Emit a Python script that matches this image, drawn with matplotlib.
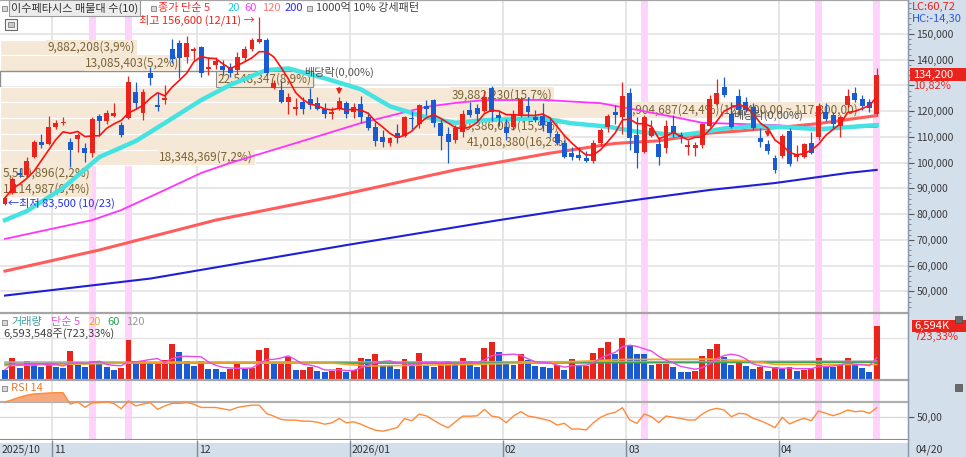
import numpy as np
import pandas as pd
import matplotlib
matplotlib.use("Agg")
import matplotlib.pyplot as plt
from matplotlib import patches, transforms
from matplotlib.lines import Line2D

plt.rcParams['font.family'] = ['Noto Sans CJK KR', 'DejaVu Sans']
plt.rcParams['axes.unicode_minus'] = False

# ---------------- data ----------------
opens = [
    84000, 88100, 96000, 95200, 102300, 107900, 107100, 113800, 115400, 107900,
    109200, 105600, 103900, 118100, 116200, 118100, 114600, 117300, 127300, 119400,
    134900, 122400, 124300, 144000, 146400, 140900, 143500, 144800, 136300, 137900,
    137600, 137000, 136000, 140500, 144000, 146900, 147600, 129100, 128200, 123700,
    120700, 123700, 124600, 123100, 121000, 118900, 120700, 123300, 119800, 122800,
    117600, 113700, 110100, 107800, 111400, 110400, 117400, 115000, 122100, 124300,
    115300, 111100, 108800, 111900, 120600, 121400, 120100, 129000, 118700, 114000,
    114000, 118500, 122000, 117600, 118100, 115900, 111100, 107500, 103900, 103000,
    101700, 100800, 107500, 113700, 119800, 117900, 127200, 110700, 104300, 110300,
    107300, 105800, 114400, 110700, 106200, 105800, 106900, 114400, 122800, 129500,
    118900, 126000, 123700, 121800, 109500, 107300, 101800, 102600, 112400, 102300,
    102300, 107800, 109800, 119800, 118500, 114200, 122400, 127200, 124700, 123500,
    118900]
highs = [
    87000, 94500, 97800, 102300, 108800, 111100, 118100, 116600, 117600, 109500,
    111400, 107500, 117600, 118800, 120500, 123300, 115700, 133700, 131200, 128600,
    137300, 126900, 130200, 147900, 147600, 149200, 145000, 145500, 141200, 141200,
    139900, 138600, 143100, 145300, 148400, 156600, 148300, 132100, 131900, 126900,
    125300, 125600, 128900, 125600, 123000, 121800, 125400, 124100, 123000, 125900,
    119600, 115900, 112700, 110000, 115000, 118000, 120000, 122900, 124300, 124800,
    117000, 114000, 114500, 120500, 123700, 122800, 127700, 129700, 120500, 117000,
    120500, 125600, 125600, 120600, 123100, 117600, 112500, 108800, 106000, 106200,
    104600, 108800, 113400, 119000, 122400, 131500, 128900, 117600, 118500, 116600,
    110000, 116600, 118500, 112000, 108800, 108000, 115500, 126300, 132400, 133200,
    123700, 128500, 125500, 123000, 113400, 108800, 103000, 111100, 113400, 106900,
    107500, 112000, 123000, 123100, 119800, 118500, 128500, 129300, 126300, 124800,
    136900]
lows = [
    83500, 87800, 94400, 94600, 101700, 105800, 107000, 113100, 114500, 98500,
    104300, 100400, 102300, 110400, 115000, 117600, 110000, 117000, 120900, 116600,
    130200, 120200, 122800, 138600, 132800, 138600, 139900, 133400, 134100, 136500,
    134100, 133100, 134300, 139500, 143500, 146600, 134000, 128700, 123100, 118900,
    118400, 119000, 120700, 120500, 117400, 116800, 120500, 117400, 117200, 115300,
    112700, 106500, 106100, 106500, 107600, 109800, 113000, 113600, 118600, 114000,
    104900, 99800, 107500, 109900, 117600, 116000, 119500, 116000, 114200, 108800,
    112700, 117600, 117600, 115800, 112300, 109900, 107000, 101700, 100900, 100900,
    100200, 99800, 106500, 112000, 114900, 111100, 104900, 97800, 103600, 110100,
    99100, 103600, 110100, 107500, 103000, 102600, 105800, 113800, 122500, 125400,
    113400, 118600, 119500, 112700, 106200, 103400, 95900, 101700, 98700, 100800,
    101700, 103400, 109000, 116000, 113600, 109900, 121800, 123400, 120500, 119800,
    118500]
closes = [
    86300, 93500, 95200, 100600, 107900, 106900, 113900, 115500, 115800, 104900,
    110600, 103900, 116800, 116200, 119200, 119200, 110700, 131200, 123100, 127300,
    132800, 121500, 125000, 140100, 140500, 146400, 144000, 134900, 137300, 139600,
    136000, 134900, 141200, 144000, 147600, 147900, 134700, 131100, 123700, 125400,
    121500, 120700, 122400, 120700, 118900, 119800, 124100, 118900, 121800, 117600,
    113400, 108500, 107900, 109500, 109500, 117600, 116800, 122400, 120800, 115600,
    110300, 108100, 113400, 118800, 118600, 119100, 125500, 119800, 117200, 111700,
    118900, 124600, 119800, 116600, 114600, 111600, 107800, 102300, 102300, 101700,
    100800, 107800, 112700, 118100, 118500, 125900, 109500, 103900, 117600, 113500,
    102300, 114200, 111400, 109900, 106900, 106900, 115000, 124700, 127200, 126300,
    114000, 120500, 120500, 113400, 108200, 104600, 97200, 110400, 99500, 103400,
    107100, 103900, 122000, 116800, 114900, 117900, 125900, 124300, 122000, 121100,
    134200]
volumes = [
    1230000, 2700000, 1430000, 2250000, 1840000, 1560000, 2130000, 1560000, 1430000, 3520000,
    1840000, 1640000, 2290000, 2130000, 1560000, 1230000, 1430000, 4830000, 1970000, 2250000,
    1970000, 2000000, 2380000, 4420000, 3400000, 2250000, 1760000, 2250000, 1350000, 1330000,
    1020000, 1350000, 2090000, 1350000, 1470000, 3600000, 3930000, 2170000, 2200000, 2780000,
    1230000, 1250000, 1560000, 1150000, 940000, 1150000, 1430000, 1020000, 1270000, 2660000,
    2540000, 3110000, 1680000, 1660000, 1350000, 2500000, 1760000, 3320000, 1680000, 1640000,
    2090000, 2250000, 2090000, 2620000, 2050000, 1560000, 3930000, 4590000, 3400000, 1970000,
    1840000, 3190000, 2460000, 1680000, 1560000, 1470000, 1840000, 1230000, 2580000, 1680000,
    1700000, 3320000, 3930000, 4630000, 3190000, 5160000, 4220000, 3190000, 3150000, 1880000,
    1900000, 1920000, 1560000, 1020000, 1000000, 1050000, 2870000, 3730000, 4420000, 2780000,
    1880000, 2050000, 1680000, 1350000, 1640000, 1150000, 1560000, 1350000, 1640000, 1150000,
    1230000, 1430000, 2660000, 1640000, 1560000, 1840000, 2660000, 1840000, 1430000, 911555,
    6593548]
rsi14 = [
    70.0, 72.9, 76.4, 79.0, 80.8, 81.3, 82.0, 82.4, 82.4, 67.3,
    70.4, 62.9, 69.0, 69.3, 70.2, 68.0, 61.0, 71.3, 64.7, 67.3,
    69.0, 60.2, 64.7, 68.2, 68.2, 69.3, 67.1, 62.7, 62.7, 62.7,
    60.9, 59.1, 62.7, 64.4, 65.8, 65.8, 54.7, 51.1, 46.7, 45.8,
    45.8, 44.4, 44.4, 43.1, 40.4, 42.2, 48.0, 42.2, 43.6, 40.4,
    36.0, 32.4, 31.1, 33.3, 36.0, 48.0, 44.9, 53.8, 51.6, 45.8,
    40.0, 35.6, 43.6, 51.1, 51.1, 51.6, 60.2, 51.3, 49.6, 42.4,
    51.3, 57.1, 51.3, 49.6, 47.3, 45.1, 39.3, 41.6, 34.0, 34.0,
    32.7, 42.4, 49.6, 54.0, 56.2, 62.4, 46.0, 41.6, 54.0, 50.4,
    42.4, 51.3, 49.6, 48.2, 46.0, 46.0, 54.0, 59.3, 61.6, 59.3,
    50.4, 54.9, 54.0, 48.2, 45.1, 40.7, 35.8, 49.6, 40.7, 45.1,
    48.2, 45.1, 58.0, 54.9, 51.8, 54.9, 59.3, 57.1, 58.0, 54.9,
    62.4]

# moving averages read at sample points (index, value)
ma20_idx = [0, 3, 8, 13, 18, 22, 27, 31, 36, 39, 44, 49, 53, 58, 62, 66, 70, 74, 78, 83, 87, 93, 95, 99, 103, 108, 112, 117, 120]
ma20_val = [77700, 81200, 90200, 102200, 108400, 115400, 124300, 130200, 136000, 136600, 132800, 128500, 121900, 117600,
            115500, 116500, 117000, 117200, 115300, 114000, 112000, 110700, 111400, 113300, 114200, 113700, 113000, 114000, 114600]
ma60_idx = [0, 12, 16, 22, 27, 31, 40, 49, 58, 62, 66, 74, 82, 87, 92, 96, 106, 112, 120]
ma60_val = [70400, 77700, 81600, 89400, 96000, 99900, 107600, 115400, 121700, 123200, 124300, 124400, 123100, 120500,
            117800, 115500, 114600, 113500, 113900]
ma120_idx = [0, 13, 29, 45, 62, 75, 84, 90, 97, 101, 107, 112, 120]
ma120_val = [57900, 66100, 77700, 86700, 97200, 103700, 107500, 108500, 111500, 112300, 113800, 115200, 118300]
ma200_idx = [0, 20, 47, 68, 77, 88, 97, 106, 116, 120]
ma200_val = [48400, 55000, 68000, 77700, 81600, 86000, 89400, 92100, 96000, 97200]

vma20_idx = [0, 18, 45, 50, 65, 79, 85, 97, 102, 106, 120]
vma20_val = [1.76e6, 2.09e6, 2.05e6, 1.70e6, 1.90e6, 2.25e6, 2.50e6, 2.54e6, 2.35e6, 1.90e6, 1.88e6]
vma60_idx = [0, 18, 65, 120]
vma60_val = [1.92e6, 2.05e6, 2.05e6, 2.17e6]
vma120_idx = [0, 65, 120]
vma120_val = [2.17e6, 2.20e6, 2.29e6]

# volume profile (매물대), top band first
band_vol = [9882208, 13085403, 22548347, 39882230, 61904687, 40386009, 41018380, 18348369, 5519896, 1114987]
band_top = 147800
band_step = 6100

month_idx = [0, 7, 27, 48, 69, 86, 107]
month_lbl = ['2025/10', '11', '12', '2026/01', '02', '03', '04']
last_date = '04/20'
hi_date, lo_date = '12/11', '10/23'
strong_idx = [12, 17, 88, 112, 120]
exdiv_idx = [46, 105]

# ---------------- layout ----------------
RED = '#e8241c'
BLUE = '#1a5bd2'
STRIP = '#d4dfec'
TAN = '#f6e8d6'
W, H = 966, 457
PR = 908
STEP = 7.264
XLO, XHI = -5 / STEP, (PR - 5) / STEP
YMAX, YMIN = 163180, 41630
VMAX = 8.14e6

fig = plt.figure(figsize=(W / 100, H / 100), dpi=100, facecolor=STRIP)


def ax_px(x0, y0, x1, y1):
    return fig.add_axes([x0 / W, 1 - y1 / H, (x1 - x0) / W, (y1 - y0) / H])


def ftxt(x, y, s, **kw):
    kw.setdefault('va', 'center')
    kw.setdefault('ha', 'left')
    kw.setdefault('fontsize', 8)
    fig.text(x / W, 1 - y / H, s, **kw)


def fbox(x, y, w, h, **kw):
    fig.add_artist(patches.Rectangle((x / W, 1 - (y + h) / H), w / W, h / H,
                                     transform=fig.transFigure, **kw))


def sq(x, y):
    fbox(x, y - 2.5, 5, 5, fc='#d8d8d8', ec='#808080', lw=0.6)


idx = np.arange(len(closes))
o, h, l, c = map(np.array, (opens, highs, lows, closes))

ax = ax_px(0, 0, PR, 313)
av = ax_px(0, 313, PR, 380)
ar = ax_px(0, 380, PR, 439.5)
ad = ax_px(0, 439.5, PR, 457)

for a in (ax, av, ar, ad):
    a.set_xlim(XLO, XHI)
    a.set_xticks([])
    a.spines['left'].set_visible(False)
    a.spines['bottom'].set_visible(False)
    a.spines['right'].set_color('#8c99aa')
    a.spines['top'].set_color('#a5a5a5')
    a.spines['top'].set_linewidth(1.6)
    a.yaxis.tick_right()

bounds = [m - 0.5 for m in month_idx[1:]]
for a in (ax, av, ar):
    for b in bounds:
        a.axvline(b, color='#e2e2e2', lw=1.2, zorder=0.5)
    for s in strong_idx:
        a.axvspan(s - 0.48, s + 0.48, color='#ffd3fb', lw=0, zorder=0.6)

# ---- main price panel ----
ticks = np.arange(50000, 150001, 10000)
ax.set_yticks(ticks)
ax.set_yticklabels(['' if 0 < c[-1] - t < 6000 else f'{t:,}' for t in ticks])
ax.set_yticks(np.arange(44000, 162001, 2000), minor=True)
ax.tick_params(axis='y', which='major', length=4, width=0.8, color='#555555',
               labelcolor='#3a3a3a', labelsize=7.5, pad=2)
ax.tick_params(axis='y', which='minor', length=2, width=0.6, color='#777777')
ax.grid(axis='y', which='major', color='#e3e3e3', lw=1.2)
ax.set_axisbelow(True)
ax.set_ylim(YMIN, YMAX)

blend = transforms.blended_transform_factory(ax.transAxes, ax.transData)
tot = sum(band_vol)
pct = [v / tot * 100 for v in band_vol]
imax = int(np.argmax(band_vol))
for k, (v, p) in enumerate(zip(band_vol, pct)):
    hi = band_top - k * band_step
    lo = hi - band_step
    cur = lo <= c[-1] < hi
    xe = p / max(pct) * (860 / PR)
    ax.axhspan(lo, hi, xmin=0, xmax=xe, facecolor='white' if cur else TAN,
               edgecolor='#8f8f8f' if cur else 'white', lw=1 if cur else 0.8, zorder=1)
    lab = f'{v:,}({p:.1f}%)'
    if k == imax:
        lab += f'({hi:,.2f} ~ {lo:,.2f})'
    lab = lab.replace('.', ',')
    if p < 3:
        tx, ha = 3 / PR, 'left'
    else:
        tx, ha = xe - 2 / PR, 'right'
    ax.text(tx, (lo + hi) / 2, lab, transform=blend, ha=ha, va='center', fontsize=8.5,
            color='#7a6436', zorder=2,
            bbox=dict(boxstyle='square,pad=0.12', fc=TAN, ec='#8f8f8f' if cur else 'none', lw=0.8))

ax.plot(ma200_idx, ma200_val, color='#1f1fd6', lw=1.5, zorder=3)
ax.plot(ma120_idx, ma120_val, color='#ff5c5c', lw=2.2, zorder=3)
ax.plot(ma60_idx, ma60_val, color='#ff33ff', lw=1.3, zorder=3)
ax.plot(ma20_idx, ma20_val, color='#45e2e2', lw=3.2, zorder=3)

up = c >= o
ccol = np.where(up, RED, BLUE)
ax.vlines(idx, l, h, colors=ccol, lw=0.9, zorder=4)
ax.bar(idx, np.maximum(np.abs(c - o), 300), bottom=np.minimum(o, c), width=0.68,
       color=ccol, lw=0, zorder=4.2)

ma5 = pd.Series(closes).rolling(5, min_periods=1).mean()
ax.plot(idx, ma5, color='#ff1010', lw=1.2, zorder=5)

hi_i = int(np.argmax(h))
ax.annotate(f'최고 {h[hi_i]:,} ({hi_date}) →', xy=(hi_i - 0.55, h[hi_i]), xytext=(0, -3),
            textcoords='offset pixels', ha='right', va='center', color=RED, fontsize=8, zorder=6)
lo_i = int(np.argmin(l))
ax.annotate(f'←최저 {l[lo_i]:,} ({lo_date})', xy=(lo_i, l[lo_i]), xytext=(3, 2),
            textcoords='offset pixels', ha='left', va='center', color='#2432e6', fontsize=8, zorder=6)
for e in exdiv_idx:
    ax.annotate('배당락(0,00%)', xy=(e, h[e]), xytext=(0, 25), textcoords='offset pixels',
                ha='center', va='center', fontsize=8, color='#555555', zorder=6,
                arrowprops=dict(arrowstyle='-|>', color=RED, lw=1, shrinkA=5, shrinkB=2,
                                mutation_scale=8))

# ---- volume panel ----
vol = np.array(volumes)
vcol = [BLUE] + [RED if vol[i] > vol[i - 1] else BLUE for i in range(1, len(vol))]
av.axhline(5.1e6, color='#e3e3e3', lw=1, zorder=0.5)
av.bar(idx, vol, width=0.82, color=vcol, lw=0, zorder=2)
av.plot(vma120_idx, vma120_val, color='#a8a8a8', lw=1.2, zorder=3)
av.plot(vma60_idx, vma60_val, color='#3aa655', lw=1.2, zorder=3)
av.plot(vma20_idx, vma20_val, color='#f5a623', lw=1.2, zorder=3)
av.plot(idx, pd.Series(volumes).rolling(5, min_periods=1).mean(), color='#e84ce8', lw=1, zorder=3)
av.set_yticks([])
av.set_ylim(0, VMAX)

# ---- RSI panel ----
rsi = np.array(rsi14)
ar.axhline(70, color='#b0b0b0', lw=1.6, zorder=1)
ar.axhline(50, color='#dadada', lw=1, zorder=1)
ar.fill_between(idx, rsi, 70, where=rsi >= 70, interpolate=True, color='#f6a77c', lw=0, zorder=2)
ar.plot(idx, rsi, color='#ff8a3a', lw=1, zorder=3)
ar.set_yticks([50])
ar.set_yticklabels(['50,00'])
ar.tick_params(axis='y', length=4, width=0.8, color='#555555', labelcolor='#3a3a3a',
               labelsize=7.5, pad=2)
ar.set_ylim(20, 99.33)
ar.spines['bottom'].set_visible(True)
ar.spines['bottom'].set_color('#8a8a8a')
ar.spines['bottom'].set_linewidth(1.5)

# ---- date strip ----
ad.set_facecolor(STRIP)
ad.set_ylim(0, 17.5)
ad.set_yticks([])
ad.spines['top'].set_visible(False)
ad.axhspan(14, 17.5, color='white', lw=0)
ad.vlines(bounds, 0, 17.5, color='#7f8b9b', lw=1)
ad.text(XLO + 2 / STEP, 7, month_lbl[0], ha='left', va='center', fontsize=7.5, color='#333333')
for b, lbl in zip(bounds, month_lbl[1:]):
    ad.text(b + 2 / STEP, 7, lbl, ha='left', va='center', fontsize=7.5, color='#333333')
ftxt(916, 450, last_date, color='#333333', fontsize=7.5)

fig.add_artist(Line2D([PR / W, PR / W], [0, 1], transform=fig.transFigure, color='#8c99aa', lw=1))

# ---- right strip labels ----
ftxt(912, 7, 'LC:60,72', color=RED)
ftxt(912, 19, 'HC:-14,30', color='#2a5ad8')
cy = (YMAX - c[-1]) / (YMAX - YMIN) * 313
fbox(910, cy - 6.5, 56, 13, color=RED, lw=0)
ftxt(913, cy, f'{c[-1]:,}', color='white')
chg = (c[-1] / c[-2] - 1) * 100
ftxt(913, cy + 11.5, f'{chg:.2f}%'.replace('.', ','), color=RED)
vy = 380 - vol[-1] / VMAX * 67
fbox(912, vy - 6, 54, 12, color=RED, lw=0)
ftxt(914, vy, f'{round(vol[-1] / 1000):,}K', color='white')
vchg = vol[-1] / vol[-2] * 100
ftxt(914, vy + 11, f'{vchg:.2f}%'.replace('.', ','), color=RED)
fbox(955, 316, 7, 7, fc='#6a6a6a', ec='#4a4a4a', lw=0.5)
fbox(955, 384, 7, 7, fc='#6a6a6a', ec='#4a4a4a', lw=0.5)

# ---- headers ----
sq(2, 8)
ftxt(11, 8, '이수페타시스 매물대 수(10)', color='#333333',
     bbox=dict(boxstyle='square,pad=0.2', fc='#ececec', ec='#9a9a9a', lw=0.8))
sq(151, 8)
ftxt(158, 8, '종가 단순 5', color='#ff2a2a')
ftxt(228, 8, '20', color='#22c8dc')
ftxt(244, 8, '60', color='#ff3cff')
ftxt(262, 8, '120', color='#ff7272')
ftxt(285, 8, '200', color='#2a2aff')
sq(307, 8)
ftxt(316, 8, '1000억 10% 강세패턴', color='#444444')
fbox(5, 19, 12, 11, fc='#f4f4f4', ec='#6a6a6a', lw=0.8)
fbox(8, 22, 6, 5, fc='#c8c8c8', ec='#6a6a6a', lw=0.5)

sq(2, 322)
ftxt(11, 322, '거래량', color='#3aa0a0')
ftxt(51, 322, '단순 5', color='#e055e0')
ftxt(89, 322, '20', color='#f0a828')
ftxt(107, 322, '60', color='#2aa050')
ftxt(126, 322, '120', color='#9a9a9a')
ftxt(3, 334, f'{vol[-1]:,}주({vchg:.2f}%)'.replace('.', ','), color='#404040')

sq(2, 388)
ftxt(11, 388, 'RSI 14', color='#f07a32')

fig.savefig('out.png', dpi=100, facecolor=STRIP)
